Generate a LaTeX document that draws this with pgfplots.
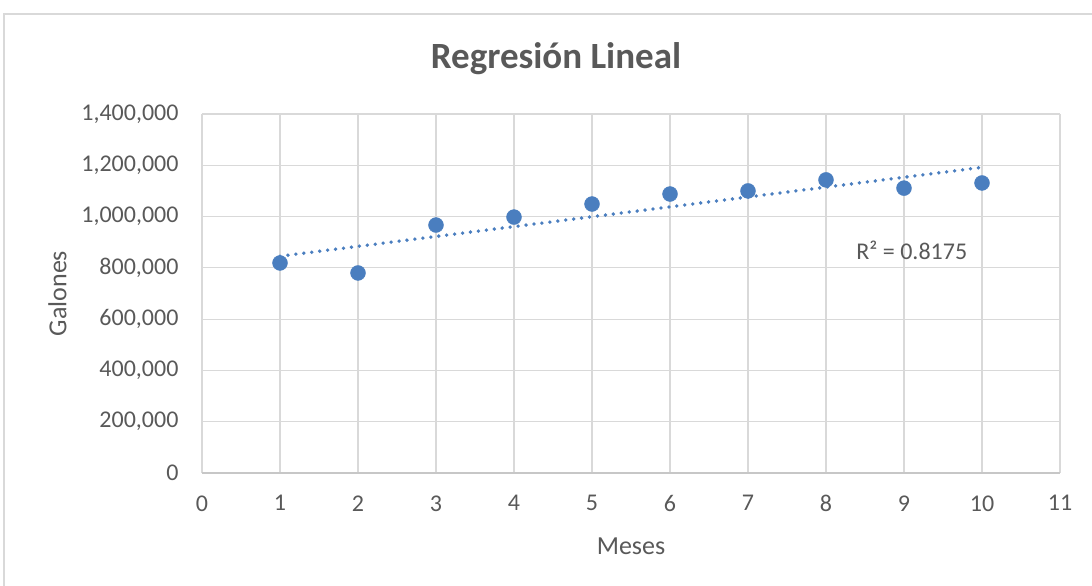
\documentclass[border=0pt]{standalone}
\usepackage{pgfplots}
\pgfplotsset{compat=1.18}
\usepackage{fontspec}
\setmainfont{Carlito}
\definecolor{txt}{HTML}{595959}
\definecolor{grd}{HTML}{D9D9D9}
\definecolor{mk}{HTML}{4A7EBF}
\begin{document}
\begin{tikzpicture}[x=1pt,y=1pt]
\useasboundingbox (0,0) rectangle (1092,586);
\draw[color=grd, line width=1.5pt] (4,0) -- (4,572) -- (1092,572);
\begin{axis}[
  at={(202pt,113pt)}, anchor=south west,
  scale only axis, width=858pt, height=359pt,
  xmin=0, xmax=11, ymin=0, ymax=1400000,
  scaled y ticks=false,
  xtick={0,...,11}, xticklabels={0,1,2,3,4,5,6,7,8,9,10,11},
  ytick={0,200000,400000,600000,800000,1000000,1200000,1400000},
  yticklabels={0,{200,000},{400,000},{600,000},{800,000},{1,000,000},{1,200,000},{1,400,000}},
  grid=major, major grid style={color=grd, line width=1.2pt},
  axis line style={draw=none},
  tick style={draw=none},
  ticklabel style={color=txt, font=\fontsize{24}{28}\selectfont},
  xticklabel style={yshift=-19pt},
  yticklabel style={xshift=-20pt},
  xlabel={Meses}, ylabel={Galones},
  label style={color=txt, font=\fontsize{26}{30}\selectfont},
  xlabel style={yshift=-19pt},
  ylabel style={yshift=8pt},
  title={\bfseries Regresión Lineal},
  title style={color=txt, font=\fontsize{37}{42}\selectfont, yshift=30pt, xshift=-75pt},
  clip=false,
]
\draw[color=grd!80!gray, line width=1.5pt] (axis cs:0,0) -- (axis cs:11,0);
\addplot[only marks, mark=*, mark size=7.5pt, color=mk] coordinates {
(1,819000) (2,780000) (3,967000) (4,998000) (5,1049000)
(6,1088000) (7,1100000) (8,1143000) (9,1111000) (10,1131000)
};
\addplot[color=mk, line width=3.8pt, line cap=round, dash pattern=on 0pt off 8pt] coordinates {
(1,845400) (10,1191800)
};
\node[color=txt, font=\fontsize{24}{28}\selectfont] at (axis cs:9.1,870000) {R² = 0.8175};
\end{axis}
\end{tikzpicture}
\end{document}
